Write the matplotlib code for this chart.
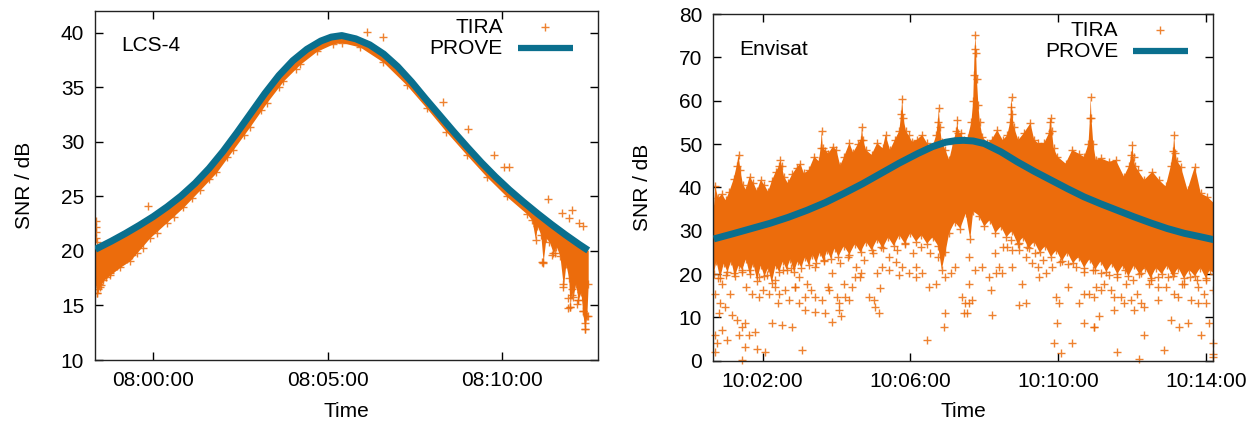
import matplotlib
matplotlib.use('Agg')
import matplotlib.pyplot as plt
import numpy as np

plt.rcParams['font.family'] = ['Liberation Sans', 'DejaVu Sans']

ORANGE = '#ec6c0c'
BLUE = '#0a6f8e'

# ---------------- LCS-4 (time in minutes after 08:00:00) ----------------
lcs_prove_t = [-1.66, -1.2, -0.8, -0.4, 0.0, 0.4, 0.8, 1.2, 1.6, 2.0, 2.4, 2.8, 3.2, 3.6, 4.0,
               4.4, 4.8, 5.1, 5.4, 5.8, 6.2, 6.6, 7.0, 7.4, 7.8, 8.2, 8.6, 9.0, 9.4, 9.8, 10.2,
               10.6, 11.0, 11.4, 11.8, 12.2, 12.46]
lcs_prove_v = [20.15, 20.9, 21.6, 22.35, 23.15, 24.05, 25.05, 26.21, 27.57, 29.13, 30.85, 32.65,
               34.45, 36.09, 37.45, 38.49, 39.25, 39.61, 39.75, 39.45, 38.9, 38.05, 36.9, 35.5,
               33.95, 32.45, 30.95, 29.5, 28.1, 26.8, 25.6, 24.5, 23.45, 22.45, 21.5, 20.6, 20.05]

lcs_band_t = [-1.66, -1.62, -1.53, -1.43, -1.24, -0.95, -0.67, -0.48, -0.10, 0.38, 0.86, 1.34,
              1.81, 2.29, 2.77, 3.25, 3.73, 4.20, 4.68, 5.16, 5.40, 5.92, 6.59, 7.26, 7.83, 8.40,
              8.98, 9.55, 10.12, 10.70, 10.85, 10.95, 11.00, 11.10, 11.17, 11.25, 11.35, 11.46,
              11.55, 11.65, 11.75, 11.82, 11.90, 11.94, 12.00, 12.03, 12.10, 12.17, 12.25, 12.30,
              12.36, 12.42, 12.46]
lcs_band_lo = [17.0, 16.1, 16.7, 17.3, 17.8, 18.5, 19.1, 19.8, 21.2, 22.6, 24.0, 25.6,
               27.2, 29.3, 31.4, 33.6, 35.6, 37.1, 38.3, 39.0, 39.1, 38.7, 37.3, 35.2, 33.1, 30.9,
               28.8, 26.8, 25.0, 23.4, 22.8, 21.0, 22.3, 21.5, 19.0, 21.2, 20.8, 19.8,
               20.4, 19.5, 16.7, 18.8, 17.5, 14.9, 16.5, 15.8, 17.0, 15.5, 16.2, 14.5,
               12.8, 14.0, 17.0]
lcs_band_hi = [20.15, 20.2, 20.35, 20.5, 20.85, 21.35, 21.85, 22.2, 22.95, 24.0, 25.2, 26.7,
               28.3, 30.4, 32.5, 34.65, 36.6, 38.0, 39.05, 39.65, 39.75, 39.3, 38.05, 36.0, 33.85,
               31.7, 29.55, 27.6, 25.8, 24.25, 23.85, 23.6, 23.45, 23.2, 23.0, 22.8, 22.55, 22.3,
               22.1, 21.85, 21.6, 21.45, 21.25, 21.15, 21.0, 20.95, 20.8, 20.65, 20.5, 20.4,
               20.25, 20.15, 20.05]

lcs_pts_t = [-1.64, -1.64, -1.64, -1.64, -1.60, -1.62, -1.58, -1.55, -1.50, -1.45, -1.35, -1.25,
             -1.15, -1.05, -0.95, -0.85, -0.75, -0.62, -0.14, 6.11, 6.59, 8.30, 9.03, 9.75,
             10.04, 10.18, 11.32, 11.99, 11.13, 11.89, 11.89, 12.13, 12.37, 11.75, 11.41,
             11.17, 11.94, 12.17, 12.36, 12.46, 11.5, 12.3, 12.0, 12.2, 11.9, 11.7, 12.3,
             -0.3, 0.1, 0.6, 1.1, 1.6, 2.1, 2.6, 3.1, 3.6, 4.1]
lcs_pts_v = [22.7, 22.2, 21.7, 21.2, 20.8, 16.1, 16.5, 17.0, 16.9, 17.5, 17.6, 18.0,
             18.3, 18.6, 18.9, 19.2, 19.3, 19.6, 24.1, 40.1, 39.6, 33.7, 31.2, 28.8,
             27.7, 27.7, 24.8, 23.8, 19.0, 15.7, 14.8, 15.1, 12.8, 17.0, 19.6,
             18.9, 14.9, 15.5, 13.4, 14.0, 19.8, 14.5, 16.0, 22.6, 23.0, 23.5, 22.3,
             20.3, 21.6, 23.1, 24.9, 26.6, 28.6, 30.6, 32.9, 35.0, 36.7]

lcs_xticks = [0, 5, 10]
lcs_xticklabels = ['08:00:00', '08:05:00', '08:10:00']
lcs_yticks = [10, 15, 20, 25, 30, 35, 40]

# ---------------- Envisat (time in minutes after 10:00:00) ----------------
env_prove_t = [0.68, 1.2, 1.7, 2.2, 2.7, 3.2, 3.7, 4.2, 4.7, 5.2, 5.7, 6.2, 6.6, 6.95, 7.2, 7.43,
               7.7, 8.0, 8.45, 8.89, 9.35, 9.8, 10.25, 10.7, 11.15, 11.6, 12.05, 12.5, 12.95,
               13.41, 13.85, 14.22]
env_prove_v = [28.1, 29.3, 30.5, 31.7, 33.1, 34.7, 36.5, 38.6, 40.8, 43.2, 45.6, 47.8, 49.4, 50.4,
               50.75, 50.85, 50.7, 50.1, 48.2, 45.9, 43.7, 41.7, 39.7, 37.8, 36.2, 34.7, 33.2,
               31.8, 30.5, 29.4, 28.6, 27.9]

env_up_t = [0.68, 0.72, 0.80, 0.90, 1.00, 1.10, 1.22, 1.30, 1.35, 1.40, 1.47, 1.55, 1.65, 1.75,
            1.85, 1.95, 2.05, 2.15, 2.25, 2.35, 2.45, 2.48, 2.52, 2.58, 2.68, 2.80, 2.92, 3.02,
            3.12, 3.25, 3.40, 3.52, 3.57, 3.60, 3.63, 3.70, 3.78, 3.90, 4.00, 4.10, 4.20, 4.35,
            4.45, 4.58, 4.66, 4.69, 4.72, 4.80, 4.95, 5.10, 5.25, 5.33, 5.45, 5.58, 5.70, 5.75,
            5.78, 5.81, 5.88, 5.95, 6.05, 6.18, 6.32, 6.45, 6.58, 6.70, 6.74, 6.77, 6.80, 6.85,
            6.95, 7.05, 7.15, 7.24, 7.27, 7.30, 7.36, 7.45, 7.55, 7.65, 7.70, 7.72, 7.74, 7.76,
            7.78, 7.80, 7.84, 7.88, 7.95, 8.08, 8.20, 8.35, 8.50, 8.62, 8.70, 8.72, 8.74, 8.76,
            8.80, 8.92, 9.07, 9.25, 9.35, 9.45, 9.62, 9.75, 9.78, 9.80, 9.83, 9.88, 9.98, 10.20,
            10.38, 10.55, 10.70, 10.82, 10.86, 10.88, 10.90, 10.95, 11.02, 11.15, 11.38, 11.56,
            11.78, 11.92, 11.98, 12.01, 12.04, 12.08, 12.15, 12.33, 12.55, 12.73, 12.91, 13.05,
            13.11, 13.14, 13.17, 13.22, 13.32, 13.50, 13.70, 13.86, 14.04, 14.22]
env_up_v = [35.0, 40.2, 37.5, 38.5, 37.0, 39.0, 42.0, 45.0, 47.5, 44.0, 40.5, 39.5, 42.5, 41.0,
            39.2, 41.7, 40.5, 39.0, 41.5, 43.5, 45.0, 46.3, 45.0, 42.5, 41.0, 43.0, 44.5, 45.5,
            43.2, 44.0, 47.1, 46.0, 49.0, 53.0, 49.0, 48.5, 47.8, 49.4, 48.6, 45.0, 47.0, 50.2,
            48.0, 50.0, 51.0, 54.0, 51.0, 48.6, 47.5, 50.2, 49.0, 52.1, 48.6, 51.0, 53.0, 57.0,
            60.5, 56.0, 53.0, 52.0, 50.5, 51.0, 52.1, 50.2, 49.0, 52.0, 55.0, 58.2, 54.0, 50.5,
            48.6, 46.3, 50.0, 53.0, 55.5, 52.5, 52.5, 50.9, 51.5, 55.0, 60.0, 66.0, 72.0, 75.2,
            71.0, 65.0, 59.0, 55.0, 51.7, 50.2, 51.0, 53.2, 50.9, 52.0, 55.0, 58.5, 60.9, 57.0,
            54.0, 50.9, 52.5, 54.8, 51.0, 50.2, 50.2, 52.5, 55.0, 55.9, 53.0, 49.0, 47.1, 45.5,
            48.6, 47.8, 47.0, 50.0, 56.0, 60.9, 56.0, 50.0, 46.3, 46.7, 45.9, 46.3,
            42.5, 45.0, 47.5, 49.8, 47.0, 45.0, 44.0, 41.7, 43.6, 41.7, 40.2, 45.0,
            48.5, 52.1, 48.0, 46.0, 44.8, 39.4, 44.8, 38.6, 37.8, 36.3]

env_lo_t = [0.68, 0.75, 0.85, 0.95, 1.05, 1.15, 1.25, 1.35, 1.45, 1.55, 1.65, 1.75, 1.85, 1.95,
            2.05, 2.15, 2.25, 2.35, 2.45, 2.55, 2.65, 2.75, 2.85, 2.95, 3.05, 3.15, 3.25, 3.35,
            3.45, 3.55, 3.65, 3.75, 3.85, 3.95, 4.05, 4.20, 4.35, 4.50, 4.65, 4.80, 4.95, 5.10,
            5.25, 5.40, 5.55, 5.70, 5.85, 6.00, 6.15, 6.30, 6.45, 6.60, 6.75, 6.85, 6.95, 7.05,
            7.20, 7.35, 7.50, 7.62, 7.70, 7.85, 8.00, 8.15, 8.30, 8.45, 8.60, 8.75, 8.90, 9.05,
            9.20, 9.35, 9.50, 9.65, 9.80, 9.95, 10.10, 10.25, 10.40, 10.55, 10.70, 10.85, 11.00,
            11.15, 11.30, 11.45, 11.60, 11.75, 11.90, 12.05, 12.20, 12.35, 12.50, 12.65, 12.80,
            12.95, 13.10, 13.25, 13.40, 13.55, 13.70, 13.85, 14.00, 14.10, 14.22]
env_lo_v = [20.0, 23.0, 19.0, 22.5, 20.5, 23.0, 19.5, 22.0, 21.0, 23.5, 20.0, 22.5, 18.5, 22.0,
            19.5, 21.5, 18.0, 22.0, 20.5, 23.0, 21.0, 23.5, 20.5, 23.0, 21.5, 24.0, 22.0, 24.5,
            22.5, 25.0, 23.0, 25.5, 23.5, 26.0, 24.0, 26.5, 24.5, 27.0, 25.0, 27.5, 25.5, 28.0,
            26.0, 28.5, 26.5, 29.0, 27.0, 29.5, 27.5, 29.0, 27.0, 28.5, 26.5, 21.0, 25.0, 29.5,
            32.0, 30.5, 34.0, 28.0, 34.5, 33.5, 31.0, 32.5, 29.5, 31.0, 28.5, 30.0, 27.0, 28.5,
            26.0, 27.5, 25.0, 26.5, 24.0, 25.5, 23.0, 25.0, 22.5, 24.0, 21.5, 23.5, 21.0,
            23.0, 20.5, 22.5, 20.0, 22.0, 19.5, 22.0, 20.0, 21.5, 19.0, 21.5, 20.0,
            22.0, 19.5, 21.5, 19.0, 21.0, 19.5, 21.5, 19.0, 21.0, 20.0]

env_pts_t = [0.72, 0.85, 0.81, 0.99, 1.17, 0.90, 0.76, 1.03, 1.30, 1.44, 1.53, 1.35, 1.62, 1.80,
             1.53, 1.85, 2.07, 1.44, 2.25, 2.52, 2.80, 3.07, 2.43, 2.71, 2.98, 3.16, 3.43, 3.70,
             3.88, 4.06, 3.43, 3.79, 4.02, 2.34, 2.16, 1.89, 1.71, 2.61, 2.89, 3.16, 3.61,
             4.06, 4.11, 4.33, 4.24, 4.51, 4.65, 4.87, 5.01, 5.05, 5.14, 5.23, 5.42, 5.60, 5.78,
             5.96, 6.14, 6.32, 6.50, 6.68, 6.95, 6.91, 6.95, 7.09, 7.22, 7.40, 7.49, 7.45, 6.45,
             7.58, 5.19, 5.69, 6.14, 4.42,
             7.58, 7.76, 7.94, 8.13, 8.31, 8.49, 8.76, 8.94, 9.12, 9.30, 9.48, 9.66, 9.03, 9.12,
             7.58, 7.67, 7.54, 8.17, 8.94, 9.44, 9.93, 10.02, 9.98, 9.89, 10.07, 10.38, 10.56,
             10.84, 10.97, 10.70, 10.97, 8.22, 8.76, 8.40, 8.62,
             11.02, 11.24, 11.51, 11.78, 11.97, 12.24, 12.33, 12.06, 11.51, 11.11, 10.97, 12.33,
             12.87, 13.05, 13.28, 13.50, 13.86, 14.09, 14.18, 14.18, 12.19, 11.60, 12.69, 13.14,
             13.59, 13.95, 12.51, 12.96, 13.41, 13.77, 14.00, 11.83, 11.42, 0.70, 0.70, 14.20]
env_pts_v = [15.5, 13.2, 10.9, 12.5, 10.5, 7.1, 4.0, 4.8, 9.4, 7.8, 8.6, 5.9, 5.9, 6.7,
             3.2, 2.8, 2.1, 0.2, 8.6, 8.2, 7.8, 2.5, 13.2, 14.0, 13.2, 11.7, 11.3, 10.9,
             9.0, 13.2, 14.8, 16.3, 14.8, 17.1, 15.5, 14.8, 15.5, 16.3, 17.1, 14.8, 14.0,
             11.7, 10.2, 14.0, 14.8, 19.4, 20.2, 14.8, 14.0, 12.5, 10.9, 21.7, 20.9, 22.8, 21.7,
             20.2, 19.4, 20.2, 17.1, 17.8, 19.4, 7.8, 10.9, 20.2, 21.7, 14.8, 13.2, 10.9, 4.8,
             13.2, 16.7, 19.8, 21.7, 17.1,
             24.0, 20.9, 21.7, 19.4, 20.2, 20.2, 25.5, 25.5, 24.0, 22.5, 19.4, 20.2, 17.8, 13.2,
             17.8, 14.0, 10.9, 16.3, 12.8, 21.7, 14.8, 13.2, 8.6, 4.0, 1.7, 4.0, 13.2,
             15.5, 14.8, 8.6, 7.8, 10.5, 21.7, 21.7, 26.3,
             17.1, 17.8, 14.8, 13.2, 14.0, 13.2, 12.5, 11.7, 11.7, 10.2, 7.8, 5.9,
             2.5, 9.4, 7.8, 8.6, 5.9, 8.6, 4.0, 0.9, 0.5, 2.1, 17.1, 15.5,
             14.0, 15.5, 18.6, 19.4, 17.8, 18.6, 13.2, 17.8, 16.3, 2.0, 6.0, 1.5]

# points of the fading lower part of the dense cloud
env_mid_t = [0.79, 1.01, 1.23, 1.45, 1.67, 1.89, 2.11, 2.33, 2.55, 2.77, 2.99, 3.21, 3.43, 3.65,
             3.87, 4.09, 4.31, 4.53, 4.75, 4.98, 5.20, 5.42, 5.64, 5.86, 6.08, 6.30, 6.52, 6.74,
             0.90, 1.12, 1.56, 2.00, 2.44, 2.88, 3.32, 3.76, 4.20, 4.64, 5.09,
             10.04, 10.26, 10.48, 10.71, 10.93, 11.15, 11.37, 11.59, 11.81, 12.03, 12.25, 12.47,
             12.69, 12.91, 13.13, 13.35, 13.57, 13.79, 14.01, 14.18, 9.82, 9.60, 9.38, 9.16,
             8.94, 8.72, 8.50, 8.28, 10.26, 10.71, 11.15, 11.70, 12.14, 12.69, 13.24, 13.79]
env_mid_v = [19.0, 19.7, 20.2, 20.5, 20.9, 19.4, 19.7, 18.6, 20.9, 21.5, 19.4, 17.8, 21.7, 23.2,
             20.2, 22.5, 24.0, 21.7, 23.2, 24.8, 26.3, 24.0, 25.5, 27.1, 24.8, 26.3, 24.8, 24.0,
             17.8, 15.5, 17.1, 16.3, 15.5, 17.1, 16.3, 17.1, 17.8, 19.4, 20.2,
             22.8, 22.2, 21.7, 20.5, 20.9, 20.2, 19.7, 19.4, 20.9, 18.6, 20.2, 17.8,
             19.4, 17.1, 20.2, 17.8, 19.4, 17.1, 18.6, 16.3, 21.7, 23.2, 24.8, 26.3,
             27.1, 27.8, 26.3, 24.8, 17.1, 15.5, 16.3, 14.8, 15.5, 14.0, 14.8, 13.2]

env_xticks = [2, 6, 10, 14]
env_xticklabels = ['10:02:00', '10:06:00', '10:10:00', '10:14:00']
env_yticks = [0, 10, 20, 30, 40, 50, 60, 70, 80]

FS = 15

fig = plt.figure(figsize=(12.57, 4.23), dpi=100)
ax1 = fig.add_axes([0.0758, 0.1489, 0.4002, 0.8251])
ax2 = fig.add_axes([0.5675, 0.1473, 0.3978, 0.8196])

mk = dict(linestyle='none', marker='+', color=ORANGE, markersize=6, markeredgewidth=1.0, alpha=0.85)


def style(ax, xlim, ylim, xticks, xlabels, yticks, ylab_x):
    ax.set_xlim(*xlim)
    ax.set_ylim(*ylim)
    ax.set_xticks(xticks)
    ax.set_xticklabels(xlabels)
    ax.set_yticks(yticks)
    ax.tick_params(direction='in', top=True, right=True, length=6, width=1,
                   labelsize=FS, pad=8, colors='black')
    for s in ax.spines.values():
        s.set_linewidth(1.0)
        s.set_color('#222222')
    ax.set_xlabel('Time', fontsize=FS)
    ax.set_ylabel('SNR / dB', fontsize=FS)
    ax.yaxis.set_label_coords(ylab_x, 0.5)
    ax.xaxis.set_label_coords(0.5, -0.12)


def legend(ax, name, name_x, name_y):
    ax.text(name_x, name_y, name, transform=ax.transAxes, fontsize=FS, ha='left', va='center')
    ax.text(0.810, 0.953, 'TIRA', transform=ax.transAxes, fontsize=FS, ha='right', va='center')
    ax.text(0.810, 0.893, 'PROVE', transform=ax.transAxes, fontsize=FS, ha='right', va='center')
    ax.plot([0.894], [0.953], transform=ax.transAxes, **mk)
    ax.plot([0.840, 0.949], [0.893, 0.893], transform=ax.transAxes, color=BLUE, lw=4.5,
            solid_capstyle='butt')


# ---- left panel ----
ax1.fill_between(lcs_band_t, lcs_band_lo, lcs_band_hi, color=ORANGE, lw=0, zorder=2)
ax1.plot(lcs_band_t, lcs_band_lo, zorder=2, **mk)
ax1.plot(lcs_pts_t, lcs_pts_v, zorder=2, **mk)
ax1.plot(lcs_prove_t, lcs_prove_v, color=BLUE, lw=5, zorder=4, solid_capstyle='butt')
style(ax1, (-1.662, 12.75), (10, 42), lcs_xticks, lcs_xticklabels, lcs_yticks, -0.122)
legend(ax1, 'LCS-4', 0.052, 0.90)

# ---- right panel ----
poly_t = np.concatenate([env_up_t, env_lo_t[::-1]])
poly_v = np.concatenate([env_up_v, env_lo_v[::-1]])
ax2.fill(poly_t, poly_v, color=ORANGE, lw=0, zorder=2)
ax2.plot(env_up_t, env_up_v, zorder=2, **mk)
ax2.plot(env_lo_t, env_lo_v, zorder=2, **mk)
ax2.plot(env_mid_t, env_mid_v, zorder=2, **mk)
ax2.plot(env_pts_t, env_pts_v, zorder=2, clip_on=False, **mk)
ax2.plot(env_prove_t, env_prove_v, color=BLUE, lw=5, zorder=4, solid_capstyle='butt')
style(ax2, (0.667, 14.2), (0, 80), env_xticks, env_xticklabels, env_yticks, -0.123)
legend(ax2, 'Envisat', 0.052, 0.898)

fig.savefig('out.png', dpi=100)
